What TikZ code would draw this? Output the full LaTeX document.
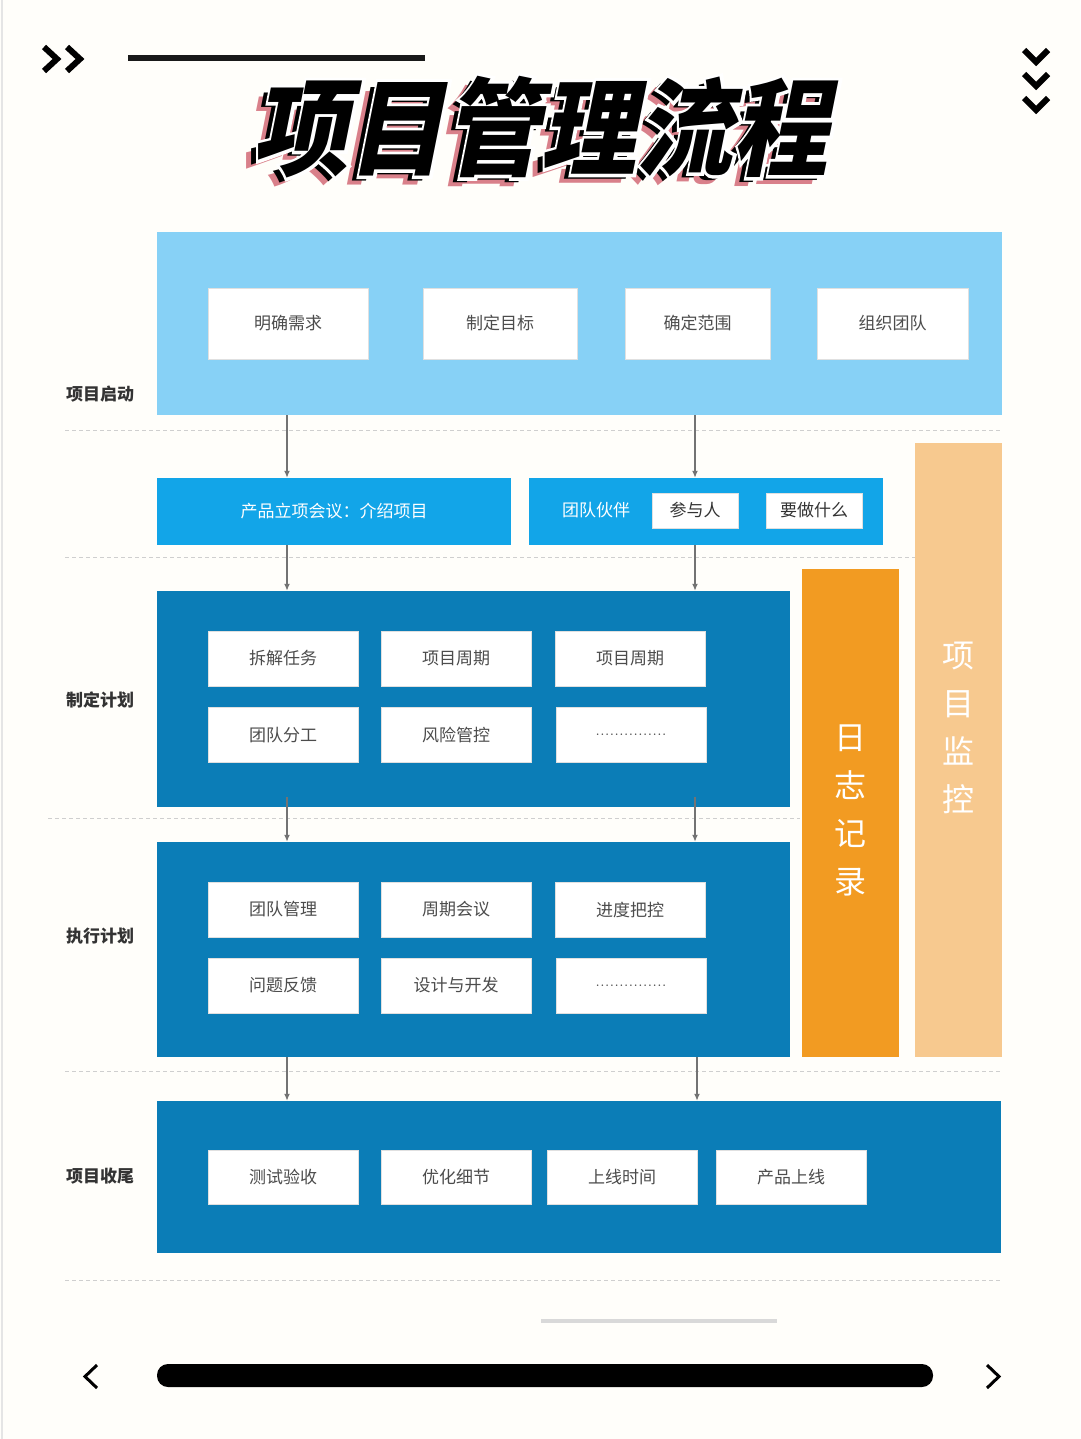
\documentclass[tikz,border=0pt]{standalone}
\usepackage{fontspec}
\newfontfamily\cjk{Noto Sans CJK SC}
\newfontfamily\cjkhalo{Noto Sans CJK SC}[FakeBold=6]
\usetikzlibrary{arrows.meta}
\definecolor{paper}{HTML}{FFFEFA}
\definecolor{skyblue}{HTML}{87D1F6}
\definecolor{midblue}{HTML}{12A5E8}
\definecolor{deepblue}{HTML}{0B7DB7}
\definecolor{logorange}{HTML}{F29B22}
\definecolor{monorange}{HTML}{F7C98F}
\definecolor{rulegray}{HTML}{CFCFCF}
\definecolor{titlepink}{HTML}{D9808A}
\newcommand{\cardfont}{\cjk\fontsize{17}{17}\selectfont}
\tikzset{
  band/.style={draw=none, inner sep=0pt},
  card/.style={fill=white, draw=black!12, text=black!70, inner sep=0pt, minimum width=150pt, minimum height=55pt, font=\cardfont},
  stage/.style={text=black!80, font=\cjk\bfseries\fontsize{17}{17}\selectfont},
  flow/.style={draw=black!55, line width=1.6pt, -{Latex[length=7pt,width=6pt]}},
  sep/.style={draw=rulegray, line width=1pt, dash pattern=on 4pt off 3pt},
  heading/.style={font=\cjk\bfseries\fontsize{96}{96}\selectfont, xslant=0.2, yscale=1.1, transform shape, inner sep=0pt},
  halo/.style={heading, font=\cjkhalo\bfseries\fontsize{96}{96}\selectfont, text=white},
  vtext/.style={text=white, align=center, font=\cjk\fontsize{32}{48}\selectfont},
  dots/.style={card, font=\fontsize{19}{19}\selectfont}
}
\begin{document}
\begin{tikzpicture}[x=1pt,y=-1pt]
\useasboundingbox (0,0) rectangle (1080,1439);
\fill[paper] (0,0) rectangle (1080,1439);
\draw[black!10, line width=2pt] (2,0) -- (2,1439);

\draw[line width=6pt] (44,47) -- (57,59) -- (44,71);
\draw[line width=6pt] (67,47) -- (80,59) -- (67,71);
\draw[black!90, line width=6pt] (128,58) -- (425,58);
\foreach \y in {50,74,98}
  \draw[line width=6pt] (1024,\y) -- (1036,\y+12) -- (1048,\y);

\node[heading, text=titlepink] at (537,136) {项目管理流程};
\node[heading, text=black] at (542,132) {项目管理流程};
\node[halo] at (549,127) {项目管理流程};
\node[heading, text=black] (title) at (549,127) {项目管理流程};

\draw[sep] (65,430) -- (1000,430);
\draw[sep] (65,557) -- (915,557);
\draw[sep] (48,818) -- (800,818);
\draw[sep] (65,1071) -- (1000,1071);
\draw[sep] (65,1280) -- (1000,1280);

\node[band, fill=skyblue, minimum width=845pt, minimum height=183pt] (qidong) at (579.5,323.5) {};
\node[card, minimum width=160pt, minimum height=71pt] (xuqiu) at (288,323.5) {明确需求};
\node[card, minimum width=154pt, minimum height=71pt] (mubiao) at (500,323.5) {制定目标};
\node[card, minimum width=145pt, minimum height=71pt] (fanwei) at (697.5,323.5) {确定范围};
\node[card, minimum width=151pt, minimum height=71pt] (tuandui) at (892.5,323.5) {组织团队};
\node[stage] (lblqidong) at (100,394) {项目启动};

\node[band, fill=monorange, minimum width=87pt, minimum height=614pt] (jiankong) at (958.5,750) {};
\node[vtext] at (958,728) {项\\目\\监\\控};
\node[band, fill=logorange, minimum width=97pt, minimum height=488pt] (rizhi) at (850.5,813) {};
\node[vtext] at (850,810) {日\\志\\记\\录};

\node[band, fill=midblue, minimum width=354pt, minimum height=67pt, text=white, font=\cardfont] (huiyi) at (334,511.5) {产品立项会议：介绍项目};
\node[band, fill=midblue, minimum width=354pt, minimum height=67pt] (huoban) at (706,511.5) {};
\node[text=white, font=\cardfont] (huobantxt) at (596,510.5) {团队伙伴};
\node[card, minimum width=86pt, minimum height=35pt, text=black!80] (canyu) at (695,510.5) {参与人};
\node[card, minimum width=96pt, minimum height=35pt, text=black!80] (zuoshenme) at (814,510.5) {要做什么};

\node[band, fill=deepblue, minimum width=633pt, minimum height=216pt] (jihua) at (473.5,699) {};
\node[card] (chaijie) at (283,658.5) {拆解任务};
\node[card] (zhouqi) at (456,658.5) {项目周期};
\node[card] (zhouqib) at (630,658.5) {项目周期};
\node[card] (fengong) at (283,735) {团队分工};
\node[card] (fengxian) at (456,735) {风险管控};
\node[dots] (jihuamore) at (631,735) {...............};
\node[stage] (lbljihua) at (100,700) {制定计划};

\node[band, fill=deepblue, minimum width=633pt, minimum height=215pt] (zhixing) at (473.5,949.5) {};
\node[card] (guanli) at (283,909.5) {团队管理};
\node[card] (huiyib) at (456,909.5) {周期会议};
\node[card] (jindu) at (630,909.5) {进度把控};
\node[card] (fankui) at (283,985.5) {问题反馈};
\node[card] (kaifa) at (456,985.5) {设计与开发};
\node[dots] (zhixingmore) at (631,985.5) {...............};
\node[stage] (lblzhixing) at (100,936) {执行计划};

\node[band, fill=deepblue, minimum width=844pt, minimum height=152pt] (shouwei) at (579,1177) {};
\node[card, minimum height=54pt] (yanshou) at (283,1177) {测试验收};
\node[card, minimum height=54pt] (youhua) at (456,1177) {优化细节};
\node[card, minimum height=54pt] (shangxian) at (622,1177) {上线时间};
\node[card, minimum height=54pt] (chanpin) at (791,1177) {产品上线};
\node[stage] (lblshouwei) at (100,1176) {项目收尾};

\coordinate (colA) at (287,0);
\coordinate (colB) at (695,0);
\draw[flow] (colA |- qidong.south) -- (colA |- huiyi.north);
\draw[flow] (colB |- qidong.south) -- (colB |- huoban.north);
\draw[flow] (colA |- huiyi.south) -- (colA |- jihua.north);
\draw[flow] (colB |- huoban.south) -- (colB |- jihua.north);
\draw[flow] ([yshift=10pt]colA |- jihua.south) -- (colA |- zhixing.north);
\draw[flow] ([yshift=10pt]colB |- jihua.south) -- (colB |- zhixing.north);
\draw[flow] (colA |- zhixing.south) -- (colA |- shouwei.north);
\draw[flow] ([xshift=2pt]colB |- zhixing.south) -- ([xshift=2pt]colB |- shouwei.north);

\draw[black!15, line width=4pt] (541,1321) -- (777,1321);
\fill[black, rounded corners=11pt] (157,1364) rectangle (933,1387);
\draw[line width=3pt] (97,1365) -- (85,1376.5) -- (97,1388);
\draw[line width=3pt] (987,1365) -- (999,1376.5) -- (987,1388);
\end{tikzpicture}
\end{document}
